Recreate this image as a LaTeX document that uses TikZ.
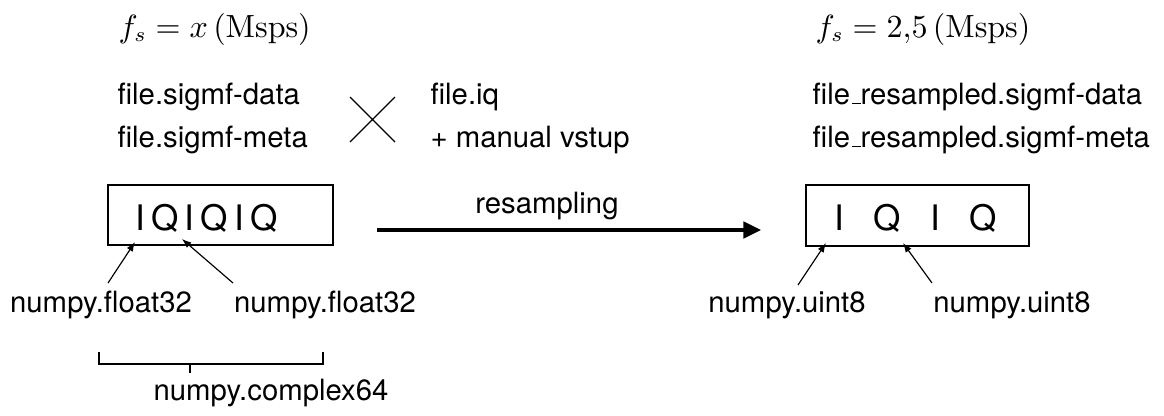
\documentclass[tikz,border=0pt]{standalone}
\usepackage[no-math]{fontspec}
\setmainfont{TeX Gyre Heros}
\usetikzlibrary{arrows.meta}
% baseline rule underscore, as in classic LaTeX output
\newcommand{\lowrule}{\leavevmode\kern.06em\vbox{\hrule width.3em}}
\begin{document}
\begin{tikzpicture}[x=0.3413pt,y=-0.3413pt,
  txt/.style={inner sep=0pt, font=\fontsize{10}{12}\selectfont},
  mathlbl/.style={inner sep=0pt, anchor=base west, font=\fontsize{10.5}{12}\selectfont},
  buf/.style={draw, line width=0.45pt, inner sep=0pt},
  iq/.style={inner sep=0pt, font=\fontsize{12}{14}\selectfont},
  ptr/.style={line width=0.4pt, -{Latex[length=3.2pt,width=2.4pt]}},
  flow/.style={line width=1.1pt, -{Triangle[length=6pt,width=5.6pt]}}]
\useasboundingbox (0,0) rectangle (1164,415);

% sample rates
\node[mathlbl] (fsin)  at (118,37) {$f_s = x\,(\mathrm{Msps})$};
\node[mathlbl] (fsout) at (815,37) {$f_s = 2{,}5\,(\mathrm{Msps})$};

% input file formats
\node[txt, anchor=base west] (sdata) at (117,104) {file.sigmf-data};
\node[txt, anchor=base west] (smeta) at (117,147) {file.sigmf-meta};
\node[txt, anchor=base west] (iqf)   at (430,104) {file.iq};
\node[txt, anchor=base west] (vstup) at (430,147) {+ manual vstup};
\draw[line width=0.45pt] (350,97) -- (395,142) (350,142) -- (395,97);

% output file names
\node[txt, anchor=base west] (rdata) at (812,104) {file\lowrule resampled.sigmf-data};
\node[txt, anchor=base west] (rmeta) at (812,147) {file\lowrule resampled.sigmf-meta};

% sample buffers
\node[buf, minimum width=76.8pt, minimum height=20.5pt] (inbuf)  at (220.5,215) {};
\node[iq, anchor=base] (inseq) at (206.5,230)
  {I\hspace{2.1pt}Q\hspace{2.1pt}I\hspace{2.1pt}Q\hspace{2.1pt}I\hspace{2.1pt}Q};
\node[buf, minimum width=76.1pt, minimum height=20.8pt] (outbuf) at (917.5,215.5) {};
\node[iq, anchor=base] (outseq) at (916,230)
  {I\hspace{10pt}Q\hspace{10pt}I\hspace{10pt}Q};

% resampling step
\node[txt, anchor=base] (rs) at (547,213) {resampling};
\coordinate (flowsrc) at (377,230);
\coordinate (flowdst) at (761,230);
\draw[flow] (flowsrc) -- (flowdst);

% element types
\node[txt, anchor=base] (fI) at (101,312) {numpy.float32};
\node[txt, anchor=base] (fQ) at (325,312) {numpy.float32};
\node[txt, anchor=base] (uI) at (787,312) {numpy.uint8};
\node[txt, anchor=base] (uQ) at (1012,312) {numpy.uint8};

\coordinate (fIt) at (108,283);  \coordinate (fIh) at (135,242);
\coordinate (fQt) at (233,283);  \coordinate (fQh) at (182,239);
\coordinate (uIt) at (798,285);  \coordinate (uIh) at (826,243);
\coordinate (uQt) at (932,283);  \coordinate (uQh) at (903,243);
\draw[ptr] (fIt) -- (fIh);
\draw[ptr] (fQt) -- (fQh);
\draw[ptr] (uIt) -- (uIh);
\draw[ptr] (uQt) -- (uQh);

% complex pairing bracket
\draw[line width=0.45pt] (99,352) -- (99,364) -- (323,364) -- (323,352)
  (190,364) -- (190,373);
\node[txt, anchor=base] (cplx) at (271,400) {numpy.complex64};
\end{tikzpicture}
\end{document}
